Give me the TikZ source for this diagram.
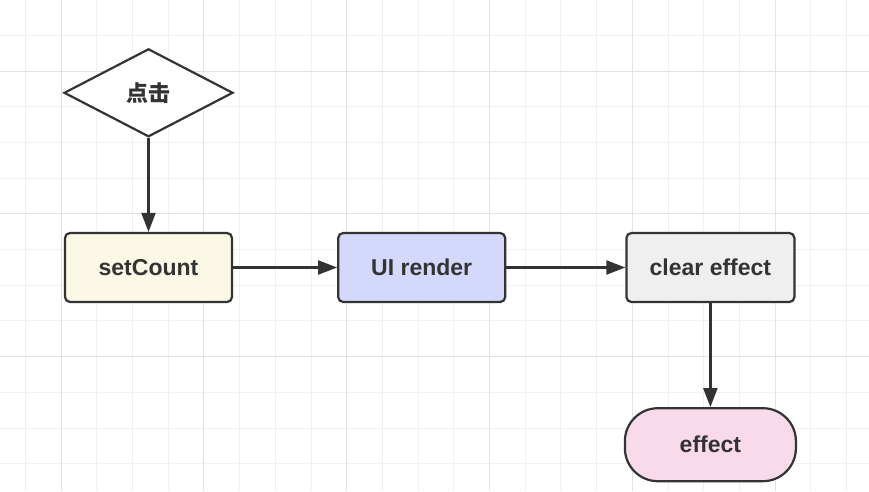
\documentclass[tikz,border=0pt]{standalone}
\usepackage{fontspec}
\setmainfont{Liberation Sans}
\newfontfamily\cjk{Noto Sans CJK SC}
\usetikzlibrary{arrows.meta,positioning,shapes.geometric}
\definecolor{ink}{RGB}{51,51,51}
\definecolor{gridminor}{RGB}{240,240,240}
\definecolor{gridmajor}{RGB}{226,226,226}
\definecolor{cream}{RGB}{251,248,230}
\definecolor{lavender}{RGB}{212,216,250}
\definecolor{lightgrey}{RGB}{239,239,239}
\definecolor{pinkish}{RGB}{249,218,234}

\begin{document}
\begin{tikzpicture}[x=1pt,y=-1pt,
  box/.style={draw=ink,line width=2.2pt,rounded corners=5pt,minimum width=167pt,minimum height=69pt,text=ink,font=\bfseries\fontsize{23}{27}\selectfont},
  decision/.style={diamond,draw=ink,line width=2.2pt,fill=white,minimum width=169pt,minimum height=88pt,inner sep=0pt,text=ink,font=\cjk\bfseries\fontsize{22}{26}\selectfont},
  terminal/.style={box,rounded corners=33pt,minimum width=171pt,minimum height=73pt},
  arr/.style={-{Triangle[length=19pt,width=14pt]},ink,line width=2.2pt}
]
\useasboundingbox (0,0) rectangle (869,491);
\fill[white] (0,0) rectangle (869,491);
% background grid
\foreach \i in {0,...,23} \draw[gridminor,line width=1pt] ({25.4+35.7*\i},0) -- ++(0,491);
\foreach \i in {1,...,13} \draw[gridminor,line width=1pt] (0,{-0.4+35.7*\i}) -- ++(869,0);
\foreach \i in {0,...,5} \draw[gridmajor,line width=1pt] ({61.1+142.8*\i},0) -- ++(0,491);
\foreach \i in {0,...,3} \draw[gridmajor,line width=1pt] (0,{71+142.8*\i}) -- ++(869,0);

\node[box,fill=cream] (setcount) at (148.5,267.5) {setCount};
\node[decision,above=94pt of setcount] (click) {点击};
\node[box,fill=lavender,right=104pt of setcount] (render) {UI render};
\node[box,fill=lightgrey,minimum width=168pt,right=119pt of render] (clear) {clear effect};
\node[terminal,fill=pinkish,below=104pt of clear] (effect) {effect};

\draw[arr] (click) -- (setcount);
\draw[arr] (setcount) -- (render);
\draw[arr] (render) -- (clear);
\draw[arr] (clear) -- (effect);
\end{tikzpicture}
\end{document}
